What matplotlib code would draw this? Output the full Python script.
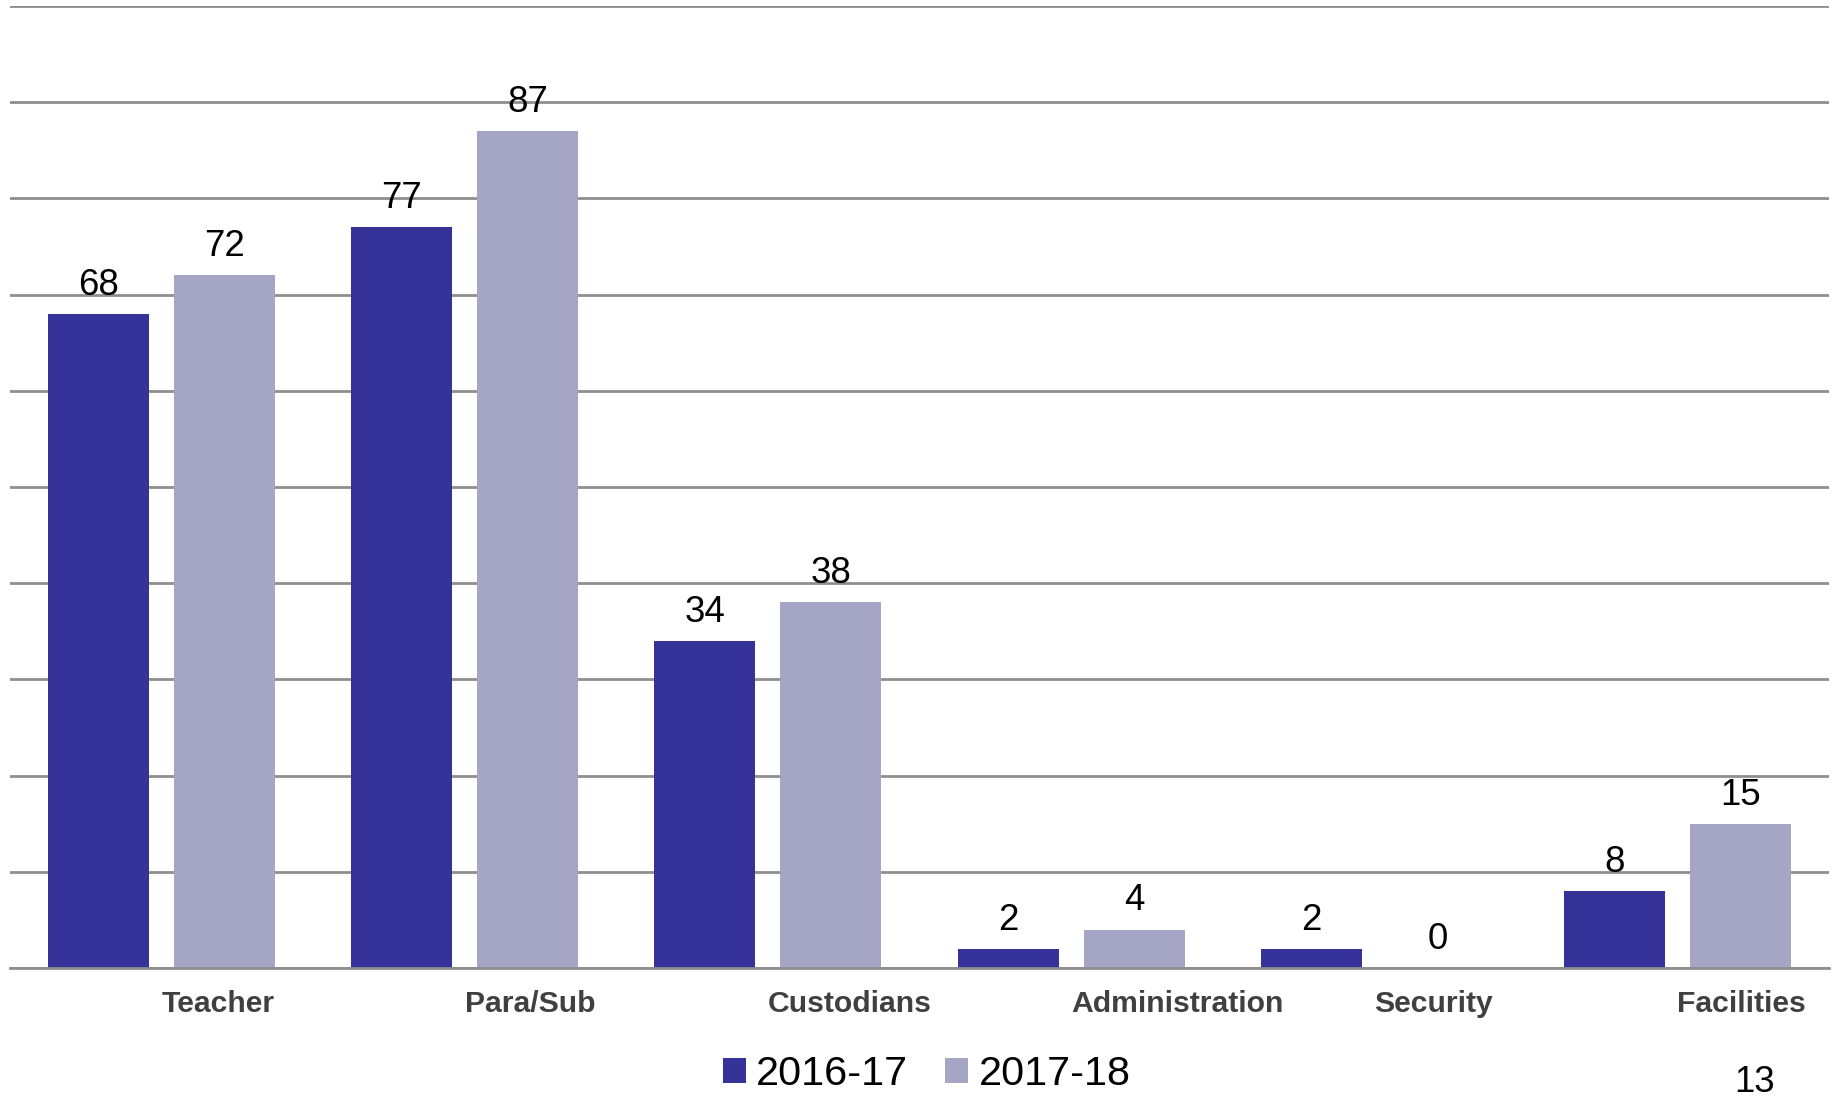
import matplotlib
matplotlib.use("Agg")
import matplotlib.pyplot as plt
from matplotlib import font_manager
import numpy as np

categories = ["Teacher", "Para/Sub", "Custodians", "Administration", "Security", "Facilities"]
series_names = ["2016-17", "2017-18"]
values_2016 = [68, 77, 34, 2, 2, 8]
values_2017 = [72, 87, 38, 4, 0, 15]
page_number = "13"

names = {f.name for f in font_manager.fontManager.ttflist}
has_narrow = "Liberation Sans Narrow" in names
narrow = "Liberation Sans Narrow" if has_narrow else "Liberation Sans"
k = 1.0 if has_narrow else 0.85

dark = "#353399"
light = "#A5A6C6"
grid_c = "#8E8E8E"

fig = plt.figure(figsize=(18.37, 10.97), dpi=100)
ax = fig.add_axes([10 / 1837, 1 - 968 / 1097, 1819 / 1837, 962 / 1097])

x = np.arange(len(categories))
w = 0.333
off = 0.208
b1 = ax.bar(x - off, values_2016, w, color=dark, label=series_names[0], zorder=3)
b2 = ax.bar(x + off, values_2017, w, color=light, label=series_names[1], zorder=3)

ax.set_xlim(-0.5, len(categories) - 0.5)
ax.set_ylim(0, 100)
ax.set_yticks(np.arange(0, 101, 10))
ax.yaxis.grid(True, color=grid_c, linewidth=2.0, zorder=0)
ax.set_axisbelow(True)
ax.tick_params(axis="y", left=False, labelleft=False)
for s in ["left", "right", "top"]:
    ax.spines[s].set_visible(False)
ax.spines["bottom"].set_color(grid_c)
ax.spines["bottom"].set_linewidth(2.0)
ax.spines["bottom"].set_zorder(4)

ax.set_xticks(x)
ax.set_xticklabels(categories, ha="left", fontweight="bold", color="#404040",
                   fontsize=25.5 * k, family=narrow)
ax.tick_params(axis="x", length=0, pad=16)

fs_val = 31 * k
for bars in (b1, b2):
    ax.bar_label(bars, padding=8, fontsize=fs_val, family=narrow, color="black")

leg = fig.legend(handles=[b1, b2], labels=series_names, loc="center",
                 bbox_to_anchor=(0.5045, 0.021), ncol=2, frameon=False,
                 prop={"family": narrow, "size": 35 * k},
                 handlelength=0.55, handleheight=0.55, handletextpad=0.25,
                 columnspacing=0.9)

fig.text(1755 / 1837, 1 - 1082 / 1097, page_number, ha="center", va="center",
         fontsize=fs_val, family=narrow, color="black")

fig.savefig("out.png", dpi=100)
